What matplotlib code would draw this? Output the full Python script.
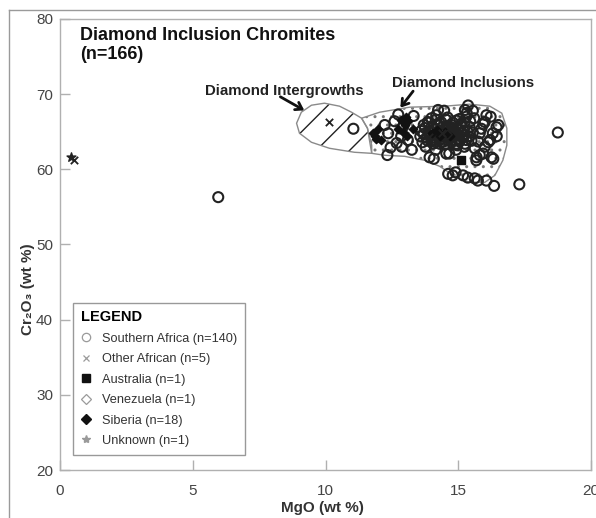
import matplotlib
matplotlib.use("Agg")
import matplotlib.pyplot as plt
from matplotlib.patches import Polygon
from matplotlib.lines import Line2D

plt.rcParams['font.family'] = ['Liberation Sans', 'DejaVu Sans']
plt.rcParams['hatch.linewidth'] = 1.0

# ---------------- data ----------------
sa_mgo = [5.96, 18.75, 11.05, 17.3,
          12.33, 12.74, 13.32, 12.23, 12.36, 12.68, 12.85, 12.6, 12.93, 12.87, 13.57, 13.1, 12.45, 13.25,
          13.89, 14.47, 14.24, 14.17, 13.99, 15.37, 15.25, 15.55, 15.32, 16.06, 16.22, 14.93, 15.12, 15.43, 14.74, 15.23, 13.7, 14.6,
          16.44, 16.51, 16.3, 16.45, 16.0, 15.94, 15.87, 15.81, 16.2, 16.13, 15.75, 16.0, 15.62, 15.94, 16.25, 16.32, 15.81, 15.69, 15.68,
          14.08, 13.92, 14.55, 14.66, 14.3, 14.93, 15.25, 15.23, 14.92, 14.15, 13.77, 14.62, 14.79, 14.9, 15.18, 15.36, 15.62, 15.74, 16.06, 16.35,
          13.6, 13.7, 13.75, 13.8, 13.85, 13.9, 13.95, 14.0, 14.0, 14.05,
          14.1, 14.1, 14.15, 14.2, 14.2, 14.25, 14.3, 14.3, 14.35, 14.4,
          14.4, 14.45, 14.5, 14.5, 14.55, 14.6, 14.6, 14.65, 14.7, 14.7,
          14.75, 14.8, 14.8, 14.85, 14.9, 14.9, 14.95, 15.0, 15.0, 15.05,
          15.1, 15.1, 15.15, 15.2, 15.25, 15.3, 15.35, 15.4, 15.45, 15.5,
          13.65, 13.85, 14.15, 14.35, 14.55, 14.8, 15.05, 15.3, 15.55, 15.6,
          14.25, 14.65, 14.05, 14.5, 14.95]
sa_cr = [56.3, 64.9, 65.4, 58.0,
         61.9, 67.3, 67.1, 65.9, 64.8, 63.5, 64.4, 66.4, 65.7, 63.0, 64.4, 63.9, 62.9, 62.6,
         66.2, 67.8, 67.9, 67.2, 66.8, 68.5, 67.9, 67.8, 67.5, 67.2, 67.0, 66.5, 66.1, 65.6, 65.9, 66.2, 65.9, 66.9,
         65.6, 65.9, 64.8, 64.4, 66.3, 66.0, 65.4, 64.8, 63.9, 63.6, 63.7, 63.0, 62.8, 62.1, 61.6, 61.4, 61.9, 61.6, 61.2,
         61.4, 61.6, 62.1, 62.1, 63.4, 63.4, 63.4, 63.0, 62.6, 62.6, 63.0, 59.4, 59.2, 59.6, 59.2, 58.9, 58.8, 58.5, 58.5, 57.8,
         65.1, 64.7, 65.5, 64.2, 63.8, 65.0, 64.5, 65.7, 63.9, 64.9,
         64.2, 65.4, 63.6, 64.8, 66.0, 64.4, 65.2, 63.9, 64.7, 65.6,
         64.1, 63.7, 64.9, 65.3, 64.4, 63.9, 65.8, 64.7, 65.1, 64.2,
         63.6, 64.9, 65.5, 64.4, 63.9, 65.0, 64.6, 65.4, 64.1, 63.7,
         64.8, 65.8, 64.3, 65.1, 64.6, 63.9, 65.0, 64.4, 66.4, 63.8,
         63.6, 66.3, 66.6, 66.3, 66.6, 66.2, 66.7, 67.0, 64.9, 66.8,
         65.8, 65.4, 63.4, 63.3, 63.2]

sib_mgo = [11.97, 11.85, 11.91, 11.8, 12.1, 12.86, 12.98, 12.92, 12.73, 13.04, 13.12, 13.06, 13.3,
           14.0, 14.3, 14.5, 14.7, 14.2]
sib_cr = [65.4, 64.5, 64.1, 64.9, 63.9, 66.5, 65.9, 65.0, 65.4, 67.0, 66.4, 64.4, 65.3,
          64.8, 64.5, 65.0, 64.5, 65.2]

oaf_mgo = [0.53, 10.15, 14.4, 14.8, 13.9]
oaf_cr = [61.3, 66.3, 64.8, 65.3, 64.3]

aus_mgo = [15.12]
aus_cr = [61.2]

ven_mgo = [14.6]
ven_cr = [64.6]

unk_mgo = [0.42]
unk_cr = [61.7]

intergrowth_mgo = [8.91, 9.09, 9.47, 9.96, 10.53, 10.98, 11.36, 11.58, 11.74, 11.74, 11.09, 10.15, 9.47, 9.02]
intergrowth_cr = [66.13, 67.6, 68.53, 68.8, 68.4, 67.6, 66.8, 65.47, 63.2, 62.13, 62.27, 62.8, 63.6, 64.8]

inclusion_mgo = [11.36, 12.04, 13.17, 14.49, 15.43, 16.19, 16.64, 16.83, 16.83, 16.68, 16.38, 16.0,
                 15.43, 14.87, 14.3, 13.74, 12.98, 12.23, 11.74, 11.58]
inclusion_cr = [66.8, 67.6, 68.27, 68.4, 68.67, 68.4, 67.47, 65.47, 63.2, 61.2, 59.2, 58.27,
                58.27, 59.07, 60.4, 61.2, 61.73, 61.87, 62.13, 65.47]

labels = ['Southern Africa (n=140)', 'Other African (n=5)', 'Australia (n=1)',
          'Venezuela (n=1)', 'Siberia (n=18)', 'Unknown (n=1)']
x_ticks = [0, 5, 10, 15, 20]
y_ticks = [20, 30, 40, 50, 60, 70, 80]

# ---------------- figure ----------------
fig = plt.figure(figsize=(5.96, 5.18), dpi=100)
ax = fig.add_axes([60/596, 1-470/518, 531/596, 451/518])
ax.set_xlim(0, 20)
ax.set_ylim(20, 80)

# outer frame
fig.add_artist(Line2D([9/596, 9/596], [0, 1-10/518], color='#9a9a9a', lw=1, transform=fig.transFigure))
fig.add_artist(Line2D([9/596, 1], [1-10/518, 1-10/518], color='#9a9a9a', lw=1, transform=fig.transFigure))

# regions
incl_xy = list(zip(inclusion_mgo, inclusion_cr))
int_xy = list(zip(intergrowth_mgo, intergrowth_cr))
ax.add_patch(Polygon(incl_xy, closed=True, facecolor='none', edgecolor='#7a7a7a', hatch='..', lw=0, zorder=1))
ax.add_patch(Polygon(incl_xy, closed=True, facecolor='none', edgecolor='#8a8a8a', lw=1.0, zorder=1.5))
ax.add_patch(Polygon(int_xy, closed=True, facecolor='white', edgecolor='#222222', hatch='/', lw=0, zorder=1.2))
ax.add_patch(Polygon(int_xy, closed=True, facecolor='none', edgecolor='#8a8a8a', lw=1.0, zorder=1.5))

# points
ax.scatter(sa_mgo, sa_cr, s=52, facecolors='none', edgecolors='#222222', linewidths=1.5, zorder=3)
ax.scatter(sib_mgo, sib_cr, s=18, marker='D', color='#111111', zorder=4)
ax.scatter(oaf_mgo, oaf_cr, s=28, marker='x', color='#222222', linewidths=1.3, zorder=4)
ax.scatter(aus_mgo, aus_cr, s=34, marker='s', color='#111111', zorder=4)
ax.scatter(ven_mgo, ven_cr, s=22, marker='D', facecolors='none', edgecolors='#222222', zorder=4)
ax.scatter(unk_mgo, unk_cr, s=45, marker='*', color='#222222', zorder=4)

# axes styling
for sp in ax.spines.values():
    sp.set_color('#b0b0b0')
    sp.set_linewidth(1.0)
ax.set_xticks(x_ticks)
ax.set_yticks(y_ticks)
ax.set_xticklabels([str(v) for v in x_ticks])
ax.set_yticklabels([str(v) for v in y_ticks])
ax.tick_params(direction='in', length=7, width=1, color='#b0b0b0', labelcolor='#444444', labelsize=11)
ax.tick_params(axis='x', pad=10)
ax.tick_params(axis='y', pad=5)

ax.set_xlabel('MgO (wt %)', fontsize=11, fontweight='bold', color='#333333')
ax.xaxis.set_label_coords(0.495, -0.068)
ax.set_ylabel('Cr₂O₃ (wt %)', fontsize=11, fontweight='bold', color='#333333')
ax.yaxis.set_label_coords(-0.047, 0.40)

# title
ax.text(0.0377, 0.982, 'Diamond Inclusion Chromites\n(n=166)', transform=ax.transAxes,
        ha='left', va='top', fontsize=13, fontweight='bold', color='#111111', linespacing=1.15)

# annotations
ax.text(8.45, 70.4, 'Diamond Intergrowths', ha='center', va='center', fontsize=10.8,
        fontweight='bold', color='#222222')
ax.annotate('', xy=(9.2, 67.85), xytext=(8.3, 69.65),
            arrowprops=dict(arrowstyle='->,head_length=0.45,head_width=0.3', lw=2.0, color='#111111',
                            shrinkA=0, shrinkB=0))
ax.text(15.2, 71.5, 'Diamond Inclusions', ha='center', va='center', fontsize=10.8,
        fontweight='bold', color='#222222')
ax.annotate('', xy=(12.82, 68.2), xytext=(13.3, 70.4),
            arrowprops=dict(arrowstyle='->,head_length=0.45,head_width=0.3', lw=2.0, color='#111111',
                            shrinkA=0, shrinkB=0))

# legend
handles = [
    Line2D([], [], ls='none', marker='o', mfc='none', mec='#9a9a9a', ms=6, mew=0.9),
    Line2D([], [], ls='none', marker='x', color='#9a9a9a', ms=5, mew=0.9),
    Line2D([], [], ls='none', marker='s', color='#111111', ms=6),
    Line2D([], [], ls='none', marker='D', mfc='none', mec='#9a9a9a', ms=5, mew=0.9),
    Line2D([], [], ls='none', marker='D', color='#111111', ms=5),
    Line2D([], [], ls='none', marker='*', color='#9a9a9a', ms=6),
]
leg = ax.legend(handles, labels, loc='upper left', bbox_to_anchor=(0.0245, 0.371),
                title='LEGEND', alignment='left', fontsize=9.2,
                title_fontproperties={'weight': 'bold', 'size': 10.5},
                frameon=True, fancybox=False, edgecolor='#999999', framealpha=1,
                handlelength=0.9, handletextpad=0.8, labelspacing=0.66, borderpad=0.6, borderaxespad=0)
for t in leg.get_texts():
    t.set_color('#333333')
leg.get_frame().set_linewidth(1.0)

fig.savefig('out.png', dpi=100)
